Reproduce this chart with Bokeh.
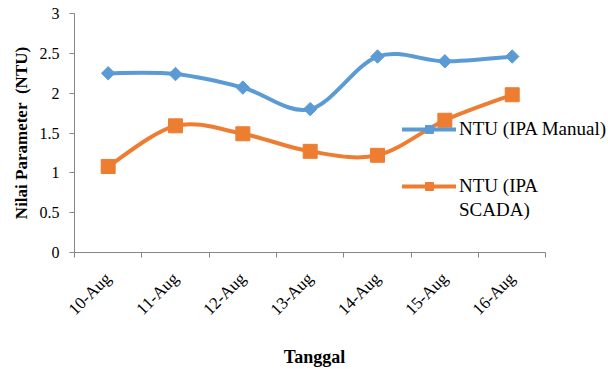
import numpy as np
from bokeh.plotting import figure
from bokeh.models import Range1d, FixedTicker, Legend, LegendItem
from bokeh.embed import file_html
from bokeh.resources import INLINE

# ---- data ----
dates = ["10-Aug", "11-Aug", "12-Aug", "13-Aug", "14-Aug", "15-Aug", "16-Aug"]
manual = [2.25, 2.24, 2.07, 1.80, 2.46, 2.40, 2.46]
scada = [1.08, 1.59, 1.49, 1.27, 1.22, 1.66, 1.98]
y_ticks = [0, 0.5, 1, 1.5, 2, 2.5, 3]

BLUE = "#5B9BD5"
ORANGE = "#ED7D31"
AXIS = "#868686"
FONT = "Liberation Serif"


def smooth(xs, ys):
    """Excel-like smoothed line: Catmull-Rom segments as cubic Beziers."""
    n = len(xs)
    P = list(zip(xs, ys))
    out = {k: [] for k in ("x0", "y0", "x1", "y1", "cx0", "cy0", "cx1", "cy1")}
    for i in range(n - 1):
        pm = P[max(i - 1, 0)]
        p0 = P[i]
        p1 = P[i + 1]
        p2 = P[min(i + 2, n - 1)]
        out["x0"].append(p0[0]); out["y0"].append(p0[1])
        out["x1"].append(p1[0]); out["y1"].append(p1[1])
        out["cx0"].append(p0[0] + (p1[0] - pm[0]) / 6)
        out["cy0"].append(p0[1] + (p1[1] - pm[1]) / 6)
        out["cx1"].append(p1[0] - (p2[0] - p0[0]) / 6)
        out["cy1"].append(p1[1] - (p2[1] - p0[1]) / 6)
    return out


xc = [i + 0.5 for i in range(len(dates))]   # category centres

p = figure(width=608, height=369,
           x_range=Range1d(0, 7.93), y_range=Range1d(0, 3),
           output_backend="svg", toolbar_location=None,
           min_border_left=74, min_border_right=0,
           min_border_top=13, min_border_bottom=116)

p.xgrid.visible = False
p.ygrid.visible = False
p.outline_line_color = None
p.background_fill_color = None
p.border_fill_color = "white"

# x axis (categories, tick marks between categories)
xa = p.xaxis[0]
xa.bounds = (0, len(dates))
xa.ticker = FixedTicker(ticks=xc, minor_ticks=list(range(len(dates) + 1)))
xa.major_label_overrides = {c: d for c, d in zip(xc, dates)}
xa.major_tick_in = 0
xa.major_tick_out = 0
xa.minor_tick_in = 0
xa.minor_tick_out = 5
xa.minor_tick_line_color = AXIS
xa.axis_line_color = AXIS
xa.major_label_orientation = np.pi / 4
xa.major_label_standoff = 18
xa.major_label_text_font = FONT
xa.major_label_text_font_size = "17px"
xa.major_label_text_color = "black"
xa.axis_label = "Tanggal" + "\u00a0" * 12
xa.axis_label_text_font = FONT
xa.axis_label_text_font_size = "18px"
xa.axis_label_text_font_style = "bold"
xa.axis_label_text_color = "black"
xa.axis_label_standoff = 18

ya = p.yaxis[0]
ya.ticker = FixedTicker(ticks=y_ticks, minor_ticks=[])
ya.major_label_overrides = {t: f"{t:g}" for t in y_ticks}
ya.major_tick_in = 0
ya.major_tick_out = 5
ya.major_tick_line_color = AXIS
ya.axis_line_color = AXIS
ya.major_label_standoff = 10
ya.major_label_text_font = FONT
ya.major_label_text_font_size = "16px"
ya.major_label_text_color = "black"
ya.axis_label = "Nilai Parameter\u00a0 (NTU)"
ya.axis_label_text_font = FONT
ya.axis_label_text_font_size = "17px"
ya.axis_label_text_font_style = "bold"
ya.axis_label_text_color = "black"
ya.axis_label_standoff = 6

sm = smooth(xc, manual)
ss = smooth(xc, scada)
b1 = p.bezier(x0=sm["x0"], y0=sm["y0"], x1=sm["x1"], y1=sm["y1"],
              cx0=sm["cx0"], cy0=sm["cy0"], cx1=sm["cx1"], cy1=sm["cy1"],
              line_color=BLUE, line_width=4, line_cap="round")
m1 = p.scatter(xc, manual, marker="square", angle=np.pi / 4, size=9.5,
               fill_color=BLUE, line_color=BLUE)
b2 = p.bezier(x0=ss["x0"], y0=ss["y0"], x1=ss["x1"], y1=ss["y1"],
              cx0=ss["cx0"], cy0=ss["cy0"], cx1=ss["cx1"], cy1=ss["cy1"],
              line_color=ORANGE, line_width=4, line_cap="round")
m2 = p.scatter(xc, scada, marker="square", size=14,
               fill_color=ORANGE, line_color=ORANGE)
# invisible renderer: carries the second line of the wrapped legend label
ghost = p.scatter(xc, scada, marker="square", size=1, alpha=0)

common = dict(orientation="vertical", glyph_width=54, glyph_height=20,
              label_standoff=3, padding=0, margin=0,
              background_fill_alpha=0, border_line_alpha=0,
              label_text_font=FONT, label_text_font_size="19px",
              label_text_color="black")
legA = Legend(items=[LegendItem(label="NTU (IPA Manual)", renderers=[b1, m1])],
              location=(328, 112), spacing=0, **common)
legB = Legend(items=[LegendItem(label="NTU (IPA", renderers=[b2, m2]),
                     LegendItem(label="SCADA)", renderers=[ghost])],
              location=(328, 31), spacing=2, **common)
p.add_layout(legA, "center")
p.add_layout(legB, "center")

open("out.html", "w").write(file_html(p, INLINE))
